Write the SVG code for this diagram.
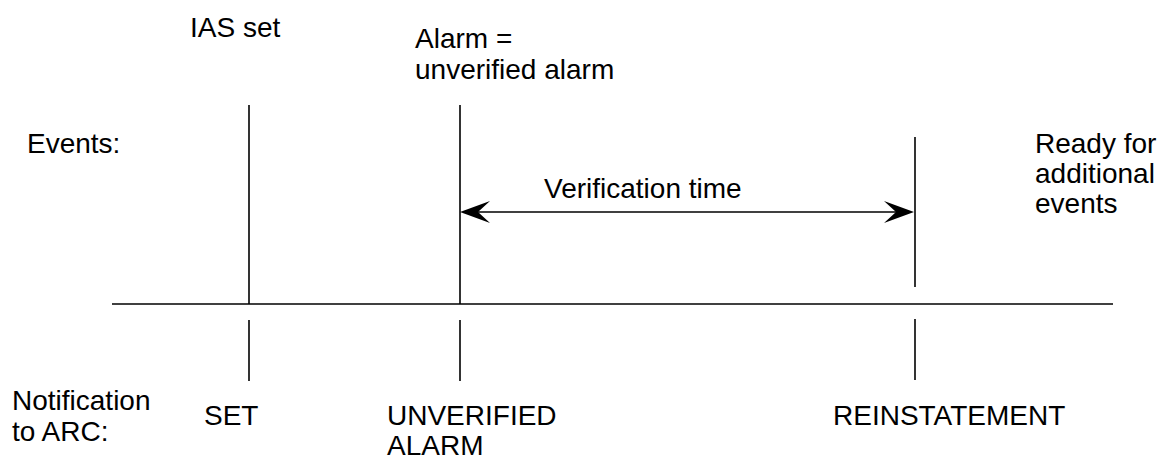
<svg xmlns="http://www.w3.org/2000/svg" width="1162" height="461" viewBox="0 0 1162 461">
<style>
  text { font-family: "Liberation Sans", Arial, sans-serif; font-size: 28px; fill: #000; }
  .ln { stroke: #000; stroke-width: 1.6; fill: none; }
  .head { fill: #000; stroke: none; }
</style>
<rect width="1162" height="461" fill="#fff"/>
<g id="labels">
  <text x="27" y="153">Events:</text>
  <text x="12" y="410">Notification</text>
  <text x="12" y="441">to ARC:</text>
</g>
<g id="axis">
  <line class="ln" x1="112" y1="304" x2="1113" y2="304"/>
</g>
<g id="ias-set">
  <text x="190" y="37">IAS set</text>
  <text x="204" y="425">SET</text>
</g>
<g id="unverified-alarm">
  <text x="415" y="48">Alarm =</text>
  <text x="415" y="79">unverified alarm</text>
  <text x="387" y="425">UNVERIFIED</text>
  <text x="387" y="455">ALARM</text>
</g>
<g id="reinstatement">
  <text x="833" y="425">REINSTATEMENT</text>
  <text x="1035" y="153">Ready for</text>
  <text x="1035" y="183">additional</text>
  <text x="1035" y="213">events</text>
</g>
<g id="connectors">
  <line class="ln" x1="249" y1="105" x2="249" y2="304"/>
  <line class="ln" x1="249" y1="320" x2="249" y2="381"/>
  <line class="ln" x1="460" y1="105" x2="460" y2="304"/>
  <line class="ln" x1="460" y1="320" x2="460" y2="381"/>
  <line class="ln" x1="915" y1="137" x2="915" y2="287"/>
  <line class="ln" x1="915" y1="319" x2="915" y2="380"/>
  <line class="ln" x1="470" y1="212" x2="905" y2="212"/>
  <path class="head" d="M460,212 L490,201 L478,212 L490,223 Z"/>
  <path class="head" d="M914,212 L884,201 L896,212 L884,223 Z"/>
</g>
<g id="verification-time">
  <text x="544" y="198">Verification time</text>
</g>
</svg>
